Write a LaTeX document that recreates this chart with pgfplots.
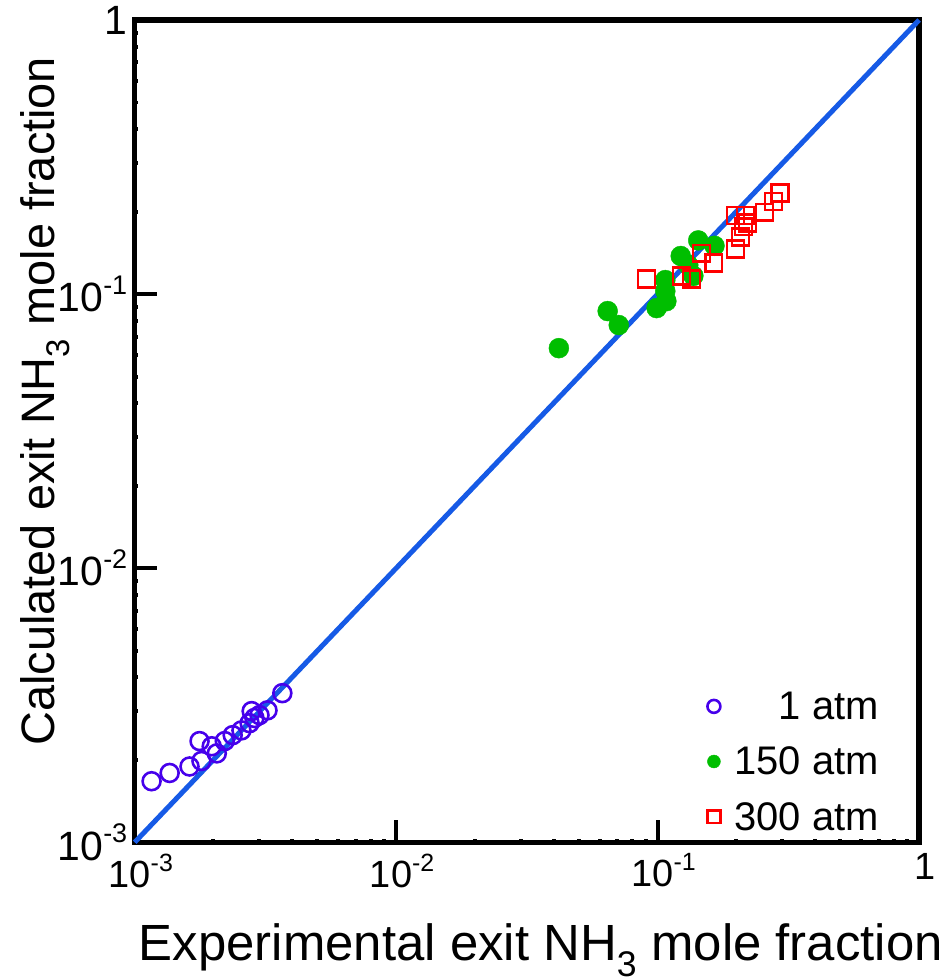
\documentclass[border=0pt]{standalone}
\usepackage{fontspec}
\setmainfont{Liberation Sans}
\usepackage{pgfplots}
\pgfplotsset{compat=1.18}
\definecolor{linecol}{RGB}{22,90,230}
\definecolor{circcol}{RGB}{70,0,235}
\definecolor{dotcol}{RGB}{0,190,0}
\definecolor{sqcol}{RGB}{255,0,0}
\newcommand\xe[1]{10\raisebox{0.42em}{\fontsize{25}{27}\selectfont #1}}
\newcommand\ye[1]{10\raisebox{0.42em}{\fontsize{27}{29}\selectfont #1}}
\begin{document}
\begin{tikzpicture}
\begin{axis}[
  scale only axis,
  width=786pt, height=824pt,
  xmode=log, ymode=log,
  xmin=1e-3, xmax=1, ymin=1e-3, ymax=1,
  axis line style={line width=5.5pt},
  xtick={0.001,0.01,0.1,1}, ytick={0.001,0.01,0.1,1},
  xticklabels={\xe{-3},\xe{-2},\xe{-1},1},
  yticklabels={\ye{-3},\ye{-2},\ye{-1},1},
  minor xtick={}, minor ytick={},
  tick style={line width=4pt, black},
  major tick length=22pt,
  tick align=inside,
  xtick pos=bottom, ytick pos=left,
  xticklabel style={font=\fontsize{38}{42}\selectfont, yshift=-8pt, xshift=6pt},
  yticklabel style={font=\fontsize{41}{44}\selectfont, xshift=-4pt},
  xlabel={Experimental exit NH\textsubscript{3} mole fraction},
  ylabel={Calculated exit NH\textsubscript{3} mole fraction},
  xlabel style={font=\fontsize{51}{55}\selectfont, at={(axis description cs:0.5,0)}, anchor=base, yshift=-118pt, xshift=14pt},
  ylabel style={font=\fontsize{47}{50}\selectfont, at={(axis description cs:0,0.5)}, anchor=base, yshift=80pt, xshift=30pt},
  clip=false,
  legend cell align=right,
  legend style={draw=none, fill=none, at={(0.955,0.008)}, anchor=south east,
    font=\fontsize{40}{46}\selectfont, row sep=22pt,
    /tikz/every odd column/.append style={column sep=12pt}},
  legend image post style={mark size=6.5pt},
]
\addplot[linecol, line width=5pt, forget plot] coordinates {(0.001,0.001) (1,1)};
\addplot[only marks, mark=o, mark size=9pt, circcol, mark options={line width=2.6pt}] coordinates {
(0.00116,0.00167) (0.00136,0.00179) (0.00162,0.00189) (0.00177,0.00234) (0.00180,0.00198)
(0.00197,0.00224) (0.00206,0.00211) (0.00221,0.00234) (0.00237,0.00246) (0.00256,0.00256)
(0.00275,0.00272) (0.00280,0.00301) (0.00287,0.00284) (0.00300,0.00291) (0.00322,0.00303)
(0.00367,0.00350)};
\addlegendentry{1 atm}
\addplot[only marks, mark=*, mark size=10pt, dotcol] coordinates {
(0.0419,0.0635) (0.0644,0.0867) (0.0710,0.0771) (0.0991,0.0889) (0.108,0.0942)
(0.107,0.1026) (0.107,0.1125) (0.1225,0.1377) (0.131,0.1277) (0.137,0.1165)
(0.143,0.157) (0.165,0.150)};
\addlegendentry{150 atm}
\addplot[only marks, mark=square, mark size=8.5pt, sqcol, mark options={line width=2.4pt}] coordinates {
(0.0908,0.1135) (0.1236,0.1165) (0.135,0.1135) (0.147,0.141) (0.164,0.130)
(0.199,0.146) (0.2075,0.1615) (0.213,0.176) (0.199,0.194) (0.217,0.194)
(0.221,0.1815) (0.256,0.199) (0.277,0.218) (0.294,0.234)};
\addlegendentry{300 atm}
\path (axis description cs:-0.1718,-0.165) rectangle (axis description cs:1.028,1.0243);
\end{axis}
\end{tikzpicture}
\end{document}
